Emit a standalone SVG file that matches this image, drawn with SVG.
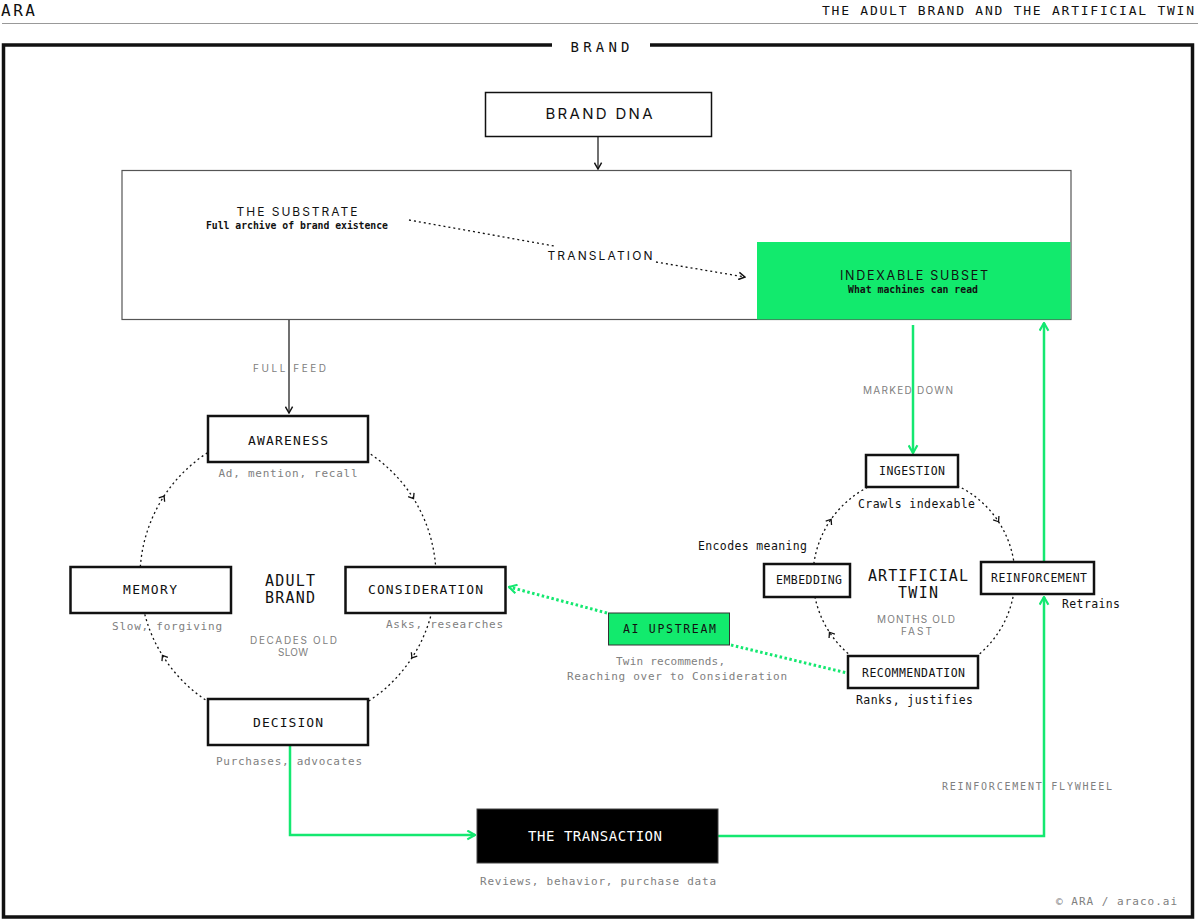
<svg xmlns="http://www.w3.org/2000/svg" xmlns:xlink="http://www.w3.org/1999/xlink" width="1200" height="922" viewBox="0 0 1200 922">
<style>
.mono{font-family:"DejaVu Sans Mono","Liberation Mono",monospace;}
.sans{font-family:Inter,"DejaVu Sans","Liberation Sans",sans-serif;}
.dark{fill:#111;}
.grey{fill:#808080;}
.mid{text-anchor:middle;}
.box{fill:#fff;stroke:#111;stroke-width:2.5;}
.sbox{fill:#fff;stroke:#111;stroke-width:2.5;}
.line{fill:none;stroke:#111;stroke-width:1.2;}
.dot{fill:none;stroke:#111;stroke-width:1.3;stroke-dasharray:2 3;}
.gline{fill:none;stroke:#14e870;stroke-width:2.5;}
.gdot{fill:none;stroke:#14e870;stroke-width:3;stroke-dasharray:2.5 2.5;}
.chev{fill:none;stroke:#111;stroke-width:1.3;}
</style>
<defs>
<marker id="ah" viewBox="0 0 10 10" refX="9" refY="5" markerWidth="9" markerHeight="9" markerUnits="userSpaceOnUse" orient="auto"><path d="M2,1 L9,5 L2,9" fill="none" stroke="#111" stroke-width="1.6"/></marker>
<marker id="gah" viewBox="0 0 10 10" refX="9" refY="5" markerWidth="11" markerHeight="11" markerUnits="userSpaceOnUse" orient="auto"><path d="M2,1 L9,5 L2,9" fill="none" stroke="#14e870" stroke-width="2"/></marker>
<path id="chv" d="M-3,-3.5 L1.5,0 L-3,3.5" class="chev"/>
</defs>
<rect width="1200" height="922" fill="#fff"/>
<g id="header">
<text class="mono dark" x="1" y="16" font-size="16" textLength="34">ARA</text>
<text class="mono dark" x="1194" y="15" font-size="13" text-anchor="end" textLength="372">THE ADULT BRAND AND THE ARTIFICIAL TWIN</text>
<line x1="2" y1="23.5" x2="1198" y2="23.5" stroke="#999" stroke-width="1"/>
</g>
<g id="brand-frame">
<path d="M552,45 L3.5,45 L3.5,917 L1192.5,917 L1192.5,45 L650,45" fill="none" stroke="#111" stroke-width="3.5"/>
<text class="mono dark mid" x="600" y="52" font-size="14" textLength="59">BRAND</text>
</g>
<g id="substrate">
<rect x="122" y="170.5" width="949" height="149" fill="#fff" stroke="#555" stroke-width="1.2"/>
<text class="sans dark mid" x="297" y="216" font-size="12" textLength="121">THE SUBSTRATE</text>
<text class="mono dark mid" x="297" y="229" font-size="9.8" font-weight="bold" textLength="182">Full archive of brand existence</text>
</g>
<g id="indexable-subset">
<rect x="757" y="242" width="313.4" height="77.4" fill="#12ea6d"/>
<text class="sans dark mid" x="914" y="280" font-size="12.5" textLength="148">INDEXABLE SUBSET</text>
<text class="mono dark mid" x="913" y="293" font-size="9.8" font-weight="bold" textLength="130">What machines can read</text>
</g>
<g id="translation">
<text class="sans dark mid" x="600" y="260" font-size="12" textLength="105">TRANSLATION</text>
</g>
<g id="connectors">
<circle cx="288" cy="577" r="148" class="dot"/>
<circle cx="914" cy="577" r="101" class="dot"/>
<use xlink:href="#chv" transform="translate(412.7,497.3) rotate(57.4)"/>
<use xlink:href="#chv" transform="translate(412.7,656.7) rotate(122.6)"/>
<use xlink:href="#chv" transform="translate(163.3,656.7) rotate(237.4)"/>
<use xlink:href="#chv" transform="translate(163.3,497.3) rotate(302.6)"/>
<use xlink:href="#chv" transform="translate(997.7,520.5) rotate(56)"/>
<use xlink:href="#chv" transform="translate(830.3,633.5) rotate(236)"/>
<use xlink:href="#chv" transform="translate(830.3,520.5) rotate(304)"/>
<line x1="598" y1="137" x2="598" y2="169" class="line" marker-end="url(#ah)"/>
<line x1="289" y1="320" x2="289" y2="413" class="line" marker-end="url(#ah)"/>
<line x1="409" y1="220" x2="554" y2="246" class="dot"/>
<line x1="656" y1="262" x2="745" y2="277" class="dot" marker-end="url(#ah)"/>
<line x1="913" y1="325" x2="913" y2="453" class="gline" marker-end="url(#gah)"/>
<line x1="1044" y1="562" x2="1044" y2="323" class="gline" marker-end="url(#gah)"/>
<path d="M290,746 L290,835 L475,835" class="gline" marker-end="url(#gah)"/>
<path d="M718,836 L1044,836 L1044,597" class="gline" marker-end="url(#gah)"/>
<line x1="607" y1="613" x2="509" y2="587" class="gdot" marker-end="url(#gah)"/>
<line x1="731" y1="645" x2="847" y2="673" class="gdot"/>
</g>
<g id="brand-dna">
<rect x="485.5" y="92.5" width="226" height="44" fill="#fff" stroke="#111" stroke-width="1.5"/>
<text class="sans dark mid" x="599" y="119" font-size="15" textLength="107">BRAND DNA</text>
</g>
<g id="labels">
<text class="sans grey mid" x="289.5" y="372" font-size="10" textLength="73">FULL FEED</text>
<text class="sans grey mid" x="908" y="394" font-size="10" textLength="90">MARKED DOWN</text>
<text class="mono grey mid" x="1027" y="790" font-size="10" textLength="170">REINFORCEMENT FLYWHEEL</text>
<text class="mono grey" x="1177" y="905" font-size="11" text-anchor="end" textLength="121">© ARA / araco.ai</text>
</g>
<g id="awareness">
<rect x="208" y="416" width="160" height="46" class="box"/>
<text class="mono dark mid" x="288" y="445" font-size="13" textLength="80">AWARENESS</text>
<text class="mono grey mid" x="288" y="477" font-size="11" textLength="139">Ad, mention, recall</text>
</g>
<g id="memory">
<rect x="70.5" y="567" width="160.5" height="46" class="box"/>
<text class="mono dark mid" x="150" y="594" font-size="13" textLength="54">MEMORY</text>
<text class="mono grey mid" x="167" y="630" font-size="11" textLength="110">Slow, forgiving</text>
</g>
<g id="consideration">
<rect x="345.5" y="567" width="160" height="46" class="box"/>
<text class="mono dark mid" x="425.5" y="594" font-size="13" textLength="115">CONSIDERATION</text>
<text class="mono grey mid" x="444.5" y="628" font-size="11" textLength="117">Asks, researches</text>
</g>
<g id="decision">
<rect x="208" y="699" width="160" height="46" class="box"/>
<text class="mono dark mid" x="288" y="727" font-size="13" textLength="70">DECISION</text>
<text class="mono grey mid" x="289" y="765" font-size="11" textLength="146">Purchases, advocates</text>
</g>
<g id="adult-brand">
<text class="mono dark mid" x="290" y="586" font-size="15" textLength="50">ADULT</text>
<text class="mono dark mid" x="290" y="603" font-size="15" textLength="50">BRAND</text>
<text class="sans grey mid" x="293.5" y="644" font-size="10" textLength="87">DECADES OLD</text>
<text class="sans grey mid" x="293" y="656" font-size="10" textLength="30">SLOW</text>
</g>
<g id="transaction">
<rect x="477" y="809" width="241" height="54" fill="#000" stroke="#444" stroke-width="1"/>
<text class="mono mid" x="595" y="841" font-size="14" fill="#fff" textLength="134">THE TRANSACTION</text>
<text class="mono grey mid" x="598" y="885" font-size="11" textLength="236">Reviews, behavior, purchase data</text>
</g>
<g id="ingestion">
<rect x="866" y="455" width="92" height="32" class="sbox"/>
<text class="mono dark mid" x="912" y="475" font-size="11.5" textLength="66">INGESTION</text>
<text class="mono dark mid" x="916.5" y="508" font-size="11.5" textLength="117">Crawls indexable</text>
</g>
<g id="embedding">
<rect x="764" y="564" width="86" height="33" class="sbox"/>
<text class="mono dark mid" x="809" y="584" font-size="11.5" textLength="66">EMBEDDING</text>
<text class="mono dark mid" x="752.5" y="550" font-size="11.5" textLength="109">Encodes meaning</text>
</g>
<g id="reinforcement">
<rect x="981" y="562" width="113" height="32" class="sbox"/>
<text class="mono dark mid" x="1039" y="582" font-size="11.5" textLength="96">REINFORCEMENT</text>
<text class="mono dark" x="1062" y="608" font-size="11.5" textLength="58">Retrains</text>
</g>
<g id="recommendation">
<rect x="848" y="656" width="130" height="32" class="sbox"/>
<text class="mono dark mid" x="913.5" y="677" font-size="11.5" textLength="103">RECOMMENDATION</text>
<text class="mono dark mid" x="914.5" y="704" font-size="11.5" textLength="117">Ranks, justifies</text>
</g>
<g id="artificial-twin">
<text class="mono dark mid" x="918" y="581" font-size="15" textLength="100">ARTIFICIAL</text>
<text class="mono dark mid" x="918" y="598" font-size="15" textLength="40">TWIN</text>
<text class="sans grey mid" x="916" y="623" font-size="10" textLength="78">MONTHS OLD</text>
<text class="sans grey mid" x="916.5" y="635" font-size="10" textLength="31">FAST</text>
</g>
<g id="ai-upstream">
<rect x="608.5" y="613" width="121" height="32" fill="#12ea6d" stroke="#333" stroke-width="1"/>
<text class="mono dark mid" x="669.5" y="633" font-size="11.5" textLength="93">AI UPSTREAM</text>
<text class="mono grey mid" x="670.5" y="665" font-size="11" textLength="109">Twin recommends,</text>
<text class="mono grey mid" x="677" y="680" font-size="11" textLength="220">Reaching over to Consideration</text>
</g>
</svg>
